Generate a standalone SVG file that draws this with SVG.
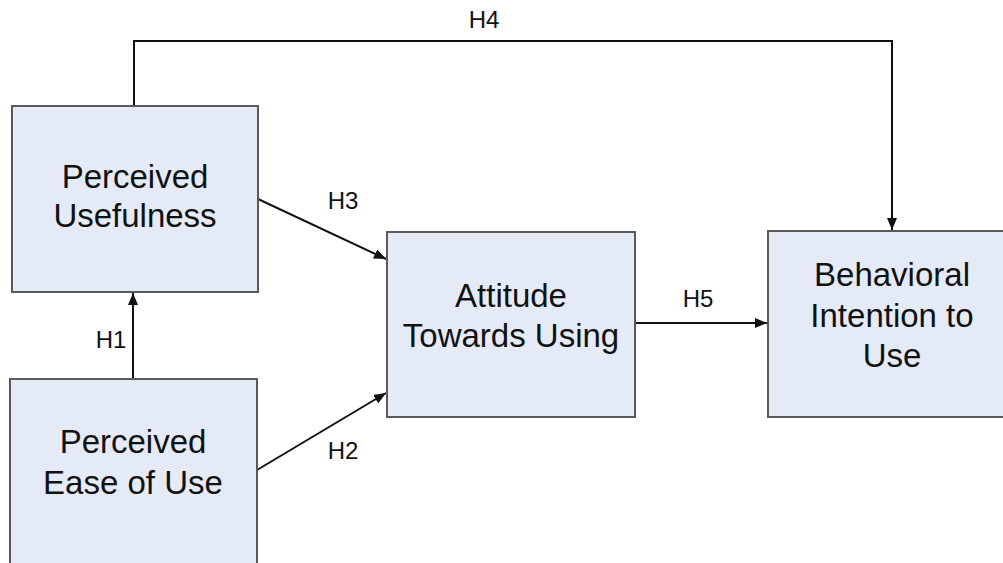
<svg xmlns="http://www.w3.org/2000/svg" width="1003" height="563" viewBox="0 0 1003 563">
<style>
.box{fill:#e5ebf6;stroke:#5a5a5a;stroke-width:2}
.lbl{font-family:"Liberation Sans",Arial,sans-serif;font-size:33px;fill:#111;text-anchor:middle}
.h{font-family:"Liberation Sans",Arial,sans-serif;font-size:24px;fill:#111;text-anchor:middle}
.c{fill:none;stroke:#111;stroke-width:2}
</style>
<defs>
<marker id="ah" viewBox="0 0 12 10" refX="12" refY="5" markerWidth="12" markerHeight="10" markerUnits="userSpaceOnUse" orient="auto">
<path d="M0,0 L12,5 L0,10 z" fill="#111"/>
</marker>
</defs>
<rect width="1003" height="563" fill="#fff"/>
<g id="connectors">
<path class="c" d="M134,106 V41 H892 V230" marker-end="url(#ah)"/>
<path class="c" d="M133,379 V293" marker-end="url(#ah)"/>
<path class="c" d="M258,199 L386,259" marker-end="url(#ah)"/>
<path class="c" d="M257,470 L386,393" marker-end="url(#ah)"/>
<path class="c" d="M635,323 L767,323" marker-end="url(#ah)"/>
<text class="h" x="484" y="28">H4</text>
<text class="h" x="111" y="348">H1</text>
<text class="h" x="343" y="209">H3</text>
<text class="h" x="343" y="459">H2</text>
<text class="h" x="698" y="307">H5</text>
</g>
<g id="perceived-usefulness">
<rect class="box" x="12" y="106" width="246" height="186"/>
<text class="lbl" x="135" y="188">Perceived</text>
<text class="lbl" x="135" y="227">Usefulness</text>
</g>
<g id="perceived-ease-of-use">
<rect class="box" x="10" y="379" width="247" height="200"/>
<text class="lbl" x="133" y="453">Perceived</text>
<text class="lbl" x="133" y="494">Ease of Use</text>
</g>
<g id="attitude-towards-using">
<rect class="box" x="387" y="232" width="248" height="185"/>
<text class="lbl" x="511" y="307">Attitude</text>
<text class="lbl" x="511" y="347">Towards Using</text>
</g>
<g id="behavioral-intention">
<rect class="box" x="768" y="231" width="248" height="186"/>
<text class="lbl" x="892" y="286">Behavioral</text>
<text class="lbl" x="892" y="327">Intention to</text>
<text class="lbl" x="892" y="367">Use</text>
</g>
</svg>
